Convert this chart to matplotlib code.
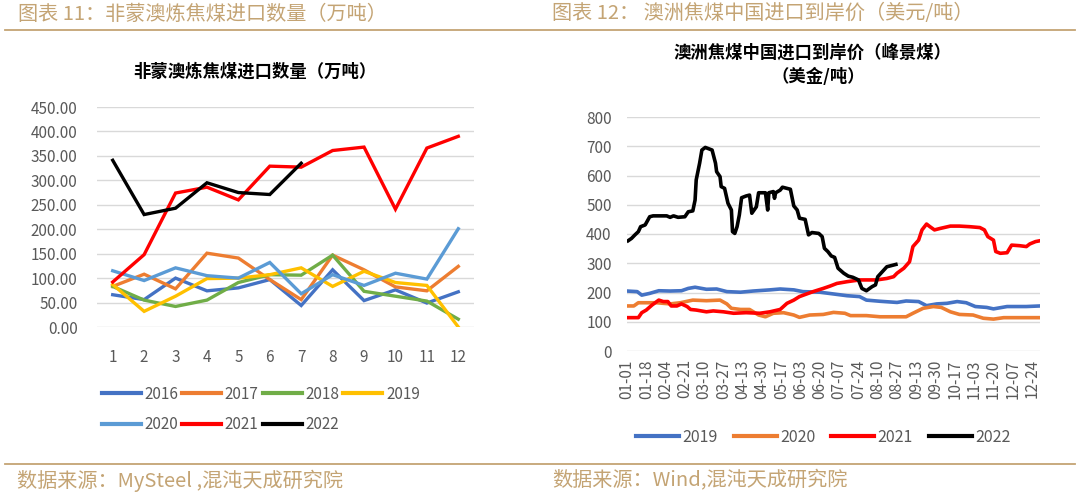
import matplotlib
matplotlib.use("Agg")
import matplotlib.pyplot as plt
from matplotlib.lines import Line2D

plt.rcParams["font.family"] = ["Noto Sans CJK SC", "DejaVu Sans"]

# left panel: non-Mongolian/Australian coking coal imports, 10k tonnes
months = list(range(1, 13))
vol_2016 = [66, 56, 100, 74, 80, 97, 44, 117, 54, 76, 49, 72]
vol_2017 = [83, 108, 78, 151, 141, 97, 56, 147, 117, 82, 74, 124]
vol_2018 = [83, 55, 42, 55, 91, 107, 106, 147, 73, 63, 53, 16]
vol_2019 = [87, 32, 63, 99, 100, 107, 121, 83, 114, 91, 85, 0]
vol_2020 = [115, 95, 121, 105, 100, 132, 68, 107, 85, 110, 98, 201]
vol_2021 = [92, 148, 274, 286, 260, 329, 327, 361, 368, 241, 366, 390]
vol_2022 = [341, 230, 243, 295, 275, 271, 335]
vol_labels = ["2016", "2017", "2018", "2019", "2020", "2021", "2022"]
vol_colors = ["#4472C4", "#ED7D31", "#70AD47", "#FFC000", "#5B9BD5", "#FF0000", "#000000"]

# right panel: Australian coking coal CFR China (Peak Downs), USD/t
# (day of year, price) pairs
d2019 = [0, 9, 13, 20, 28, 38, 48, 54, 60, 70, 79, 88, 100, 111, 126, 135, 147, 155,
         170, 182, 194, 205, 211, 223, 238, 246, 257, 264, 273, 282, 291, 299, 307,
         317, 323, 335, 352, 364]
p2019 = [205, 203, 191, 197, 206, 205, 206, 214, 218, 211, 212, 203, 201, 205, 209,
         212, 209, 203, 201, 195, 189, 186, 174, 170, 166, 171, 169, 155, 161, 163,
         169, 165, 152, 149, 144, 152, 152, 154]
d2020 = [0, 6, 10, 26, 38, 47, 58, 70, 82, 88, 92, 100, 108, 116, 122, 129, 138, 147,
         152, 161, 173, 182, 192, 197, 211, 223, 246, 252, 261, 270, 277, 285, 293,
         305, 314, 323, 332, 352, 364]
p2020 = [154, 154, 165, 165, 161, 165, 174, 172, 174, 161, 146, 142, 142, 123, 117,
         129, 131, 123, 115, 123, 125, 132, 129, 121, 121, 117, 117, 129, 146, 152,
         149, 134, 125, 123, 112, 109, 114, 114, 114]
d2021 = [1, 10, 13, 17, 22, 28, 32, 36, 39, 44, 48, 53, 56, 61, 70, 76, 85, 94, 105,
         117, 126, 135, 141, 147, 152, 164, 173, 179, 185, 194, 205, 220, 229, 235,
         238, 244, 249, 252, 257, 260, 264, 267, 271, 276, 285, 293, 302, 311, 315,
         318, 323, 325, 329, 335, 339, 346, 352, 355, 360, 364]
p2021 = [114, 114, 131, 140, 157, 174, 169, 169, 154, 154, 161, 152, 142, 140, 134,
         137, 134, 129, 131, 129, 134, 142, 163, 174, 186, 203, 214, 222, 231, 237,
         243, 243, 248, 254, 266, 283, 305, 357, 379, 414, 434, 425, 414, 419, 427,
         427, 425, 422, 414, 391, 379, 340, 334, 336, 362, 360, 357, 366, 374, 377]
d2022 = [1, 4, 7, 10, 12, 16, 20, 23, 35, 38, 41, 45, 51, 54, 58, 60, 61, 64, 66, 69,
         75, 78, 79, 82, 83, 86, 89, 92, 93, 95, 97, 99, 101, 105, 108, 110, 112, 114,
         116, 122, 124, 125, 129, 130, 131, 135, 137, 144, 147, 150, 152, 157, 160,
         163, 169, 172, 174, 177, 180, 183, 186, 191, 195, 199, 204, 207, 211, 216,
         219, 221, 225, 229, 233, 237]
p2022 = [377, 385, 397, 408, 425, 431, 459, 462, 462, 457, 462, 457, 459, 476, 479,
         516, 585, 642, 687, 696, 687, 642, 613, 596, 562, 556, 505, 482, 408, 402,
         425, 465, 524, 530, 533, 471, 482, 493, 541, 541, 482, 541, 545, 522, 541,
         550, 560, 553, 496, 482, 454, 450, 397, 405, 402, 391, 351, 340, 325, 320,
         283, 266, 256, 252, 243, 214, 206, 220, 226, 254, 271, 288, 292, 296]
date_labels = ["01-01", "01-18", "02-04", "02-21", "03-10", "03-27", "04-13", "04-30",
               "05-17", "06-03", "06-20", "07-07", "07-24", "08-10", "08-27", "09-13",
               "09-30", "10-17", "11-03", "11-20", "12-07", "12-24"]

W, H = 1080, 496
TAN = "#C4A474"
GREY = "#595959"
GRID = "#D9D9D9"


def px_axes(fig, x0, y0, x1, y1):
    # pixel box (top-left origin) -> figure axes
    return fig.add_axes([x0 / W, 1 - y1 / H, (x1 - x0) / W, (y1 - y0) / H])


def style(ax):
    for s in ax.spines.values():
        s.set_visible(False)
    ax.grid(axis="y", color=GRID, lw=1.0)
    ax.set_axisbelow(True)
    ax.tick_params(length=0, colors=GREY, labelsize=11)


fig = plt.figure(figsize=(W / 100, H / 100), dpi=100)
fig.patch.set_facecolor("white")

# header / footer rules and captions
for y in (30, 464):
    fig.add_artist(Line2D([5 / W, 1075 / W], [1 - y / H, 1 - y / H], color=TAN, lw=1.3))
fig.text(18 / W, 1 - 14 / H, "图表 11：非蒙澳炼焦煤进口数量（万吨）", color=TAN, fontsize=14.5, va="center")
fig.text(552 / W, 1 - 14 / H, "图表 12： 澳洲焦煤中国进口到岸价（美元/吨）", color=TAN, fontsize=14.5, va="center")
fig.text(17 / W, 1 - 481 / H, "数据来源：MySteel ,混沌天成研究院", color=TAN, fontsize=14.5, va="center")
fig.text(552 / W, 1 - 481 / H, "数据来源：Wind,混沌天成研究院", color=TAN, fontsize=14.5, va="center")

# left chart
ax1 = px_axes(fig, 97, 107, 474, 327)
style(ax1)
series = [vol_2016, vol_2017, vol_2018, vol_2019, vol_2020, vol_2021, vol_2022]
for vals, lab, col in zip(series, vol_labels, vol_colors):
    ax1.plot(months[:len(vals)], vals, color=col, lw=2.4, label=lab, solid_joinstyle="miter")
ax1.set_xlim(0.5, 12.5)
ax1.set_ylim(0, 450)
ax1.set_yticks(range(0, 451, 50))
ax1.set_yticklabels([f"{v:.2f}" for v in range(0, 451, 50)])
ax1.set_xticks(months)
ax1.tick_params(axis="y", pad=14)
ax1.tick_params(axis="x", pad=16)
fig.text(255 / W, 1 - 72 / H, "非蒙澳炼焦煤进口数量（万吨）", fontsize=12.5, fontweight="bold",
         ha="center", va="center")
h, l = ax1.get_legend_handles_labels()
# legend fills column-wise; reorder so rows read 2016..2019 / 2020..2022
order = [0, 4, 1, 5, 2, 6, 3]
leg1 = fig.legend([h[i] for i in order], [l[i] for i in order], loc="upper left",
                  bbox_to_anchor=(94 / W, 1 - 378 / H), ncol=4,
                  frameon=False, fontsize=11, handlelength=2.55, handletextpad=0.25,
                  columnspacing=0.25, labelspacing=0.9, borderpad=0, labelcolor=GREY)
for ln in leg1.get_lines():
    ln.set_linewidth(3)

# right chart
ax2 = px_axes(fig, 627, 117, 1040, 351)
style(ax2)
ax2.plot(d2019, p2019, color="#4472C4", lw=2.6, label="2019")
ax2.plot(d2020, p2020, color="#ED7D31", lw=2.6, label="2020")
ax2.plot(d2021, p2021, color="#FF0000", lw=2.6, label="2021")
ax2.plot(d2022, p2022, color="#000000", lw=2.6, label="2022")
ax2.set_xlim(0, 364)
ax2.set_ylim(0, 800)
ax2.set_yticks(range(0, 801, 100))
ax2.set_xticks(range(0, 365, 17))
ax2.set_xticklabels(date_labels, rotation=90)
ax2.tick_params(axis="y", pad=11)
ax2.tick_params(axis="x", pad=6)
fig.text(812 / W, 1 - 53 / H, "澳洲焦煤中国进口到岸价（峰景煤）", fontsize=12.5, fontweight="bold",
         ha="center", va="center")
fig.text(818 / W, 1 - 77 / H, "（美金/吨）", fontsize=12.5, fontweight="bold",
         ha="center", va="center")
h, l = ax2.get_legend_handles_labels()
leg2 = fig.legend(h, l, loc="center left", bbox_to_anchor=(628 / W, 1 - 437 / H), ncol=4,
                  frameon=False, fontsize=11.5, handlelength=2.7, handletextpad=0.2,
                  columnspacing=1.0, borderpad=0, labelcolor=GREY)
for ln in leg2.get_lines():
    ln.set_linewidth(3)

fig.savefig("out.png", dpi=100)
